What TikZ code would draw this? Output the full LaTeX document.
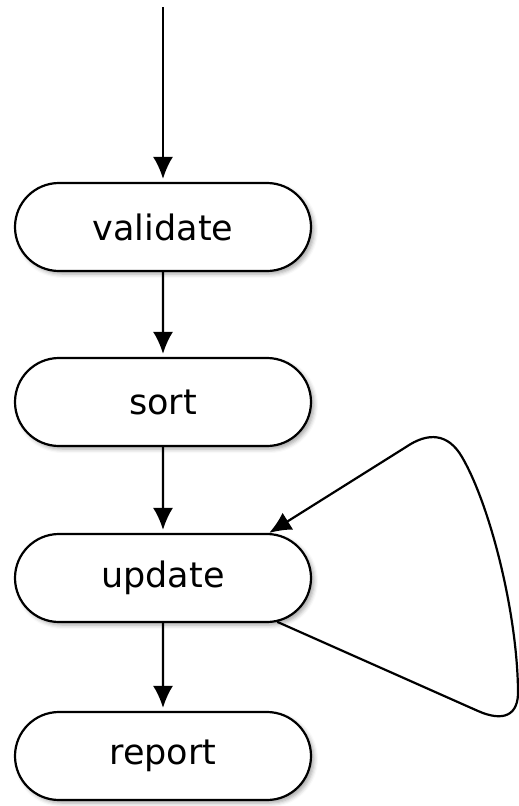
\documentclass[tikz,border=0pt]{standalone}
\usepackage{fontspec}
\setmainfont{DejaVu Sans}
\usetikzlibrary{arrows.meta,shapes.misc,shadows.blur}
\begin{document}
\begin{tikzpicture}[x=1pt,y=-1pt,
  stage/.style={rounded rectangle, draw=black, line width=2.2pt, fill=white,
    minimum width=296pt, minimum height=88pt, inner sep=0pt,
    font=\fontsize{35}{40}\selectfont,
    blur shadow={shadow xshift=3pt, shadow yshift=-3pt, shadow blur radius=4pt, shadow opacity=35}},
  flow/.style={line width=2.2pt, shorten >=3pt, -{Latex[length=22pt,width=20pt]}}]
  \useasboundingbox (0,0) rectangle (519,806);
  \coordinate (entry) at (163,7);
  \node[stage] (validate) at (163,227) {validate};
  \node[stage] (sort)     at (163,402) {sort};
  \node[stage] (update)   at (163,578) {update};
  \node[stage] (report)   at (163,756) {report};
  \draw[flow] (entry) -- (validate);
  \draw[flow] (validate) -- (sort);
  \draw[flow] (sort) -- (update);
  \draw[flow] (update) -- (report);
  % self loop on the update stage
  \draw[flow, shorten >=0pt] (update.-21) -- (478,711)
    .. controls (503,722) and (519,716) .. (518,690)
    .. controls (517,612) and (490,505) .. (462,457)
    .. controls (448,433) and (428,432) .. (406,447)
    -- (update.23);
\end{tikzpicture}
\end{document}
